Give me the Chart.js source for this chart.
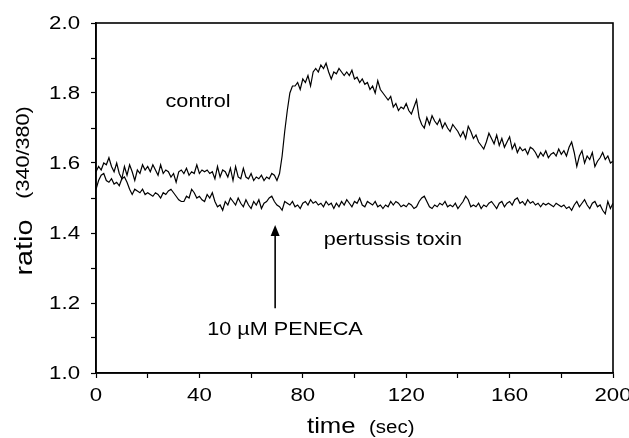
<!DOCTYPE html>
<html><head><meta charset="utf-8">
<script src="https://cdn.jsdelivr.net/npm/chart.js@4.4.1/dist/chart.umd.min.js"></script>
<style>html,body{margin:0;padding:0;background:#fff}#wrap{width:629px;height:438px}</style>
</head><body><div id="wrap"><canvas id="c" width="629" height="438"></canvas></div>
<script>
const timeSec = [0,1,2,3,4,5,6,7,8,9,10,11,12,13,14,15,16,17,18,19,20,21,22,23,24,25,26,27,28,29,30,31,32,33,34,35,36,37,38,39,40,41,42,43,44,45,46,47,48,49,50,51,52,53,54,55,56,57,58,59,60,61,62,63,64,65,66,67,68,69,70,71,72,73,74,75,76,77,78,79,80,81,82,83,84,85,86,87,88,89,90,91,92,93,94,95,96,97,98,99,100,101,102,103,104,105,106,107,108,109,110,111,112,113,114,115,116,117,118,119,120,121,122,123,124,125,126,127,128,129,130,131,132,133,134,135,136,137,138,139,140,141,142,143,144,145,146,147,148,149,150,151,152,153,154,155,156,157,158,159,160,161,162,163,164,165,166,167,168,169,170,171,172,173,174,175,176,177,178,179,180,181,182,183,184,185,186,187,188,189,190,191,192,193,194,195,196,197,198,199,200];

const controlRatio = [
1.575,1.59,1.58,1.60,1.595,1.615,1.59,1.575,1.60,1.57,
1.555,1.59,1.565,1.595,1.575,1.55,1.58,1.57,1.595,1.58,
1.59,1.575,1.595,1.58,1.565,1.595,1.57,1.58,1.575,1.56,
1.57,1.545,1.575,1.58,1.57,1.585,1.565,1.575,1.57,1.595,
1.57,1.58,1.575,1.58,1.57,1.575,1.555,1.59,1.56,1.58,
1.575,1.56,1.585,1.55,1.59,1.56,1.555,1.585,1.56,1.555,
1.57,1.55,1.56,1.555,1.565,1.55,1.56,1.555,1.57,1.565,
1.55,1.57,1.62,1.69,1.75,1.80,1.82,1.82,1.83,1.81,
1.84,1.83,1.85,1.82,1.86,1.87,1.86,1.88,1.87,1.885,
1.86,1.84,1.86,1.855,1.87,1.86,1.85,1.86,1.85,1.865,
1.84,1.845,1.83,1.84,1.825,1.83,1.81,1.82,1.80,1.835,
1.81,1.80,1.79,1.78,1.79,1.76,1.77,1.75,1.76,1.755,
1.77,1.75,1.74,1.76,1.78,1.73,1.71,1.70,1.73,1.71,
1.735,1.72,1.71,1.725,1.70,1.715,1.70,1.69,1.71,1.70,
1.69,1.675,1.69,1.67,1.705,1.69,1.67,1.68,1.66,1.65,
1.64,1.66,1.685,1.67,1.655,1.68,1.65,1.67,1.645,1.66,
1.675,1.64,1.655,1.63,1.645,1.635,1.64,1.625,1.645,1.64,
1.63,1.615,1.63,1.62,1.635,1.615,1.625,1.63,1.62,1.64,
1.625,1.635,1.62,1.645,1.66,1.63,1.59,1.62,1.635,1.60,
1.62,1.61,1.63,1.59,1.605,1.615,1.63,1.61,1.62,1.60,
1.605];

const pertussisRatio = [
1.525,1.55,1.565,1.57,1.55,1.545,1.555,1.54,1.545,1.535,
1.555,1.56,1.545,1.525,1.51,1.525,1.52,1.515,1.525,1.51,
1.515,1.51,1.505,1.515,1.51,1.50,1.515,1.51,1.52,1.525,
1.515,1.505,1.495,1.49,1.49,1.505,1.50,1.525,1.515,1.50,
1.505,1.495,1.49,1.51,1.50,1.515,1.49,1.475,1.48,1.465,
1.49,1.48,1.50,1.49,1.48,1.50,1.485,1.475,1.495,1.48,
1.47,1.49,1.48,1.495,1.47,1.485,1.49,1.50,1.505,1.49,
1.48,1.475,1.465,1.49,1.485,1.48,1.49,1.475,1.48,1.47,
1.485,1.49,1.48,1.495,1.485,1.49,1.48,1.485,1.475,1.49,
1.48,1.485,1.47,1.485,1.475,1.49,1.48,1.495,1.485,1.475,
1.49,1.485,1.50,1.48,1.475,1.49,1.485,1.48,1.49,1.475,
1.48,1.47,1.48,1.475,1.49,1.48,1.49,1.485,1.475,1.48,
1.475,1.485,1.48,1.47,1.475,1.49,1.50,1.505,1.49,1.475,
1.47,1.48,1.475,1.485,1.48,1.49,1.475,1.48,1.475,1.485,
1.47,1.48,1.49,1.505,1.495,1.475,1.48,1.475,1.485,1.47,
1.48,1.475,1.485,1.49,1.48,1.47,1.485,1.49,1.475,1.485,
1.49,1.48,1.495,1.50,1.485,1.49,1.48,1.495,1.485,1.49,
1.48,1.485,1.475,1.485,1.48,1.485,1.48,1.475,1.485,1.48,
1.475,1.48,1.47,1.475,1.465,1.48,1.49,1.475,1.485,1.495,
1.48,1.47,1.485,1.49,1.475,1.48,1.465,1.455,1.49,1.47,
1.485];

const xTickLabels = ['0','40','80','120','160','200'];
const yTickLabels = ['1.0','1.2','1.4','1.6','1.8','2.0'];

const FONT = '"Liberation Sans", Arial, Helvetica, sans-serif';
function drawText(ctx, txt, x, y, size, o) {
  o = o || {};
  ctx.save();
  ctx.translate(x, y);
  if (o.rot) ctx.rotate(o.rot);
  ctx.scale(o.sx || 1.17, 1);
  ctx.font = size + 'px ' + FONT;
  ctx.fillStyle = '#000';
  ctx.textAlign = o.align || 'left';
  ctx.textBaseline = o.base || 'alphabetic';
  ctx.fillText(txt, 0, 0);
  ctx.restore();
}

const decor = {
  id: 'decor',
  afterDraw(chart) {
    const ctx = chart.ctx, a = chart.chartArea;
    const xs = chart.scales.x, ys = chart.scales.y;
    ctx.save();
    ctx.strokeStyle = '#000';
    ctx.lineWidth = 1.6;
    ctx.strokeRect(a.left, a.top, a.right - a.left, a.bottom - a.top);
    ctx.restore();
    yTickLabels.forEach(t => {
      drawText(ctx, t, 80, ys.getPixelForValue(parseFloat(t)) + 1, 19, {align: 'right', base: 'middle'});
    });
    xTickLabels.forEach(t => {
      drawText(ctx, t, xs.getPixelForValue(parseFloat(t)), 396, 19, {align: 'center', base: 'middle'});
    });
    drawText(ctx, 'control', xs.getPixelForValue(26.9), ys.getPixelForValue(1.760), 18.5);
    drawText(ctx, 'pertussis toxin', xs.getPixelForValue(88.1), ys.getPixelForValue(1.366), 18.5);
    drawText(ctx, '10 \u00b5M PENECA', xs.getPixelForValue(43.0), ys.getPixelForValue(1.109), 18.5);
    // arrow
    const ax = xs.getPixelForValue(69.3), tip = ys.getPixelForValue(1.423), tail = ys.getPixelForValue(1.185);
    ctx.save();
    ctx.strokeStyle = '#000'; ctx.fillStyle = '#000'; ctx.lineWidth = 1.6;
    ctx.beginPath(); ctx.moveTo(ax, tail); ctx.lineTo(ax, tip + 8); ctx.stroke();
    ctx.beginPath(); ctx.moveTo(ax, tip); ctx.lineTo(ax - 4.5, tip + 11); ctx.lineTo(ax + 4.5, tip + 11); ctx.closePath(); ctx.fill();
    ctx.restore();
    // axis titles
    drawText(ctx, 'time', 307, 433, 22);
    drawText(ctx, '(sec)', 369, 433, 17.5);
    drawText(ctx, 'ratio', 31.5, 247.5, 23, {rot: -Math.PI / 2, align: 'center', sx: 1.25});
    drawText(ctx, '(340/380)', 29, 152.5, 18.5, {rot: -Math.PI / 2, align: 'center', sx: 1.17});
  }
};

new Chart(document.getElementById('c'), {
  type: 'line',
  data: {
    datasets: [
      {label: 'control', data: timeSec.map((t, i) => ({x: t, y: controlRatio[i]})), borderColor: '#000', borderWidth: 1.2, pointRadius: 0, tension: 0, fill: false},
      {label: 'pertussis toxin', data: timeSec.map((t, i) => ({x: t, y: pertussisRatio[i]})), borderColor: '#000', borderWidth: 1.2, pointRadius: 0, tension: 0, fill: false}
    ]
  },
  options: {
    responsive: false, animation: false, devicePixelRatio: 1,
    layout: {padding: {top: 23, right: 16, left: 0, bottom: 0}},
    plugins: {legend: {display: false}, tooltip: {enabled: false}},
    scales: {
      x: {type: 'linear', min: 0, max: 200,
          ticks: {stepSize: 20, display: false},
          grid: {drawOnChartArea: false, drawTicks: true, tickLength: 5, color: '#000', tickWidth: 1.2},
          border: {display: true, color: '#000', width: 1.6},
          afterFit(s) { s.height = 65; }},
      y: {type: 'linear', min: 1, max: 2,
          ticks: {stepSize: 0.1, display: false},
          grid: {drawOnChartArea: false, drawTicks: true, tickLength: 5, color: '#000', tickWidth: 1.2},
          border: {display: true, color: '#000', width: 1.6},
          afterFit(s) { s.width = 96; }}
    }
  },
  plugins: [decor]
});
</script>
</body></html>
